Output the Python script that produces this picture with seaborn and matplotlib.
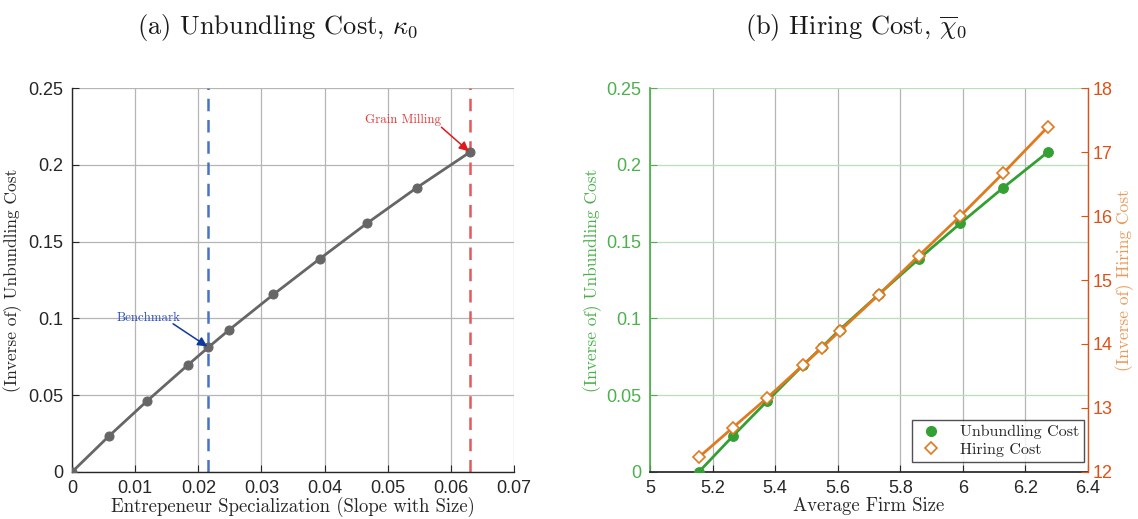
import matplotlib
matplotlib.use("Agg")
import matplotlib.pyplot as plt
from matplotlib.lines import Line2D
import seaborn as sns
import pandas as pd

# Model outcomes across the grid of unbundling costs
specialization = [0.0, 0.0058, 0.0119, 0.0183, 0.0216, 0.0249, 0.0319, 0.0392, 0.0467, 0.0546, 0.0630]
unbundling_cost = [0.0, 0.0232, 0.0463, 0.0695, 0.0812, 0.0926, 0.1156, 0.1387, 0.1619, 0.1851, 0.2082]
avg_firm_size = [5.156, 5.264, 5.375, 5.489, 5.549, 5.606, 5.731, 5.859, 5.992, 6.129, 6.271]
hiring_cost = [12.23, 12.69, 13.16, 13.67, 13.94, 14.20, 14.77, 15.38, 16.00, 16.67, 17.39]

benchmark_x = 0.0216
benchmark_y = 0.0812
grain_x = 0.0630
grain_y = 0.2082

x_ticks_a = [0, 0.01, 0.02, 0.03, 0.04, 0.05, 0.06, 0.07]
x_tick_labels_a = ["0", "0.01", "0.02", "0.03", "0.04", "0.05", "0.06", "0.07"]
y_ticks = [0, 0.05, 0.1, 0.15, 0.2, 0.25]
y_tick_labels = ["0", "0.05", "0.1", "0.15", "0.2", "0.25"]
x_ticks_b = [5, 5.2, 5.4, 5.6, 5.8, 6, 6.2, 6.4]
x_tick_labels_b = ["5", "5.2", "5.4", "5.6", "5.8", "6", "6.2", "6.4"]
y2_ticks = [12, 13, 14, 15, 16, 17, 18]
y2_tick_labels = ["12", "13", "14", "15", "16", "17", "18"]

df = pd.DataFrame({
    "spec": specialization,
    "unb": unbundling_cost,
    "size": avg_firm_size,
    "hire": hiring_cost,
})

sns.set_theme(style="white")
plt.rcParams["font.family"] = ["cmr10", "DejaVu Serif"]
plt.rcParams["mathtext.fontset"] = "cm"
plt.rcParams["axes.formatter.use_mathtext"] = True
plt.rcParams["axes.unicode_minus"] = False

SERIF = ["cmr10", "DejaVu Serif"]
TICKFONT = "Liberation Sans"

GRAY = "#666666"
GREEN = "#34a034"
GREEN_LBL = "#4cb04c"
ORANGE = "#e07a1f"
ORANGE_AX = "#d95319"
ORANGE_LBL = "#ec9a5a"

fig = plt.figure(figsize=(11.38, 5.19), dpi=100)
ax1 = fig.add_axes([0.0633, 0.0906, 0.3884, 0.7398])
ax2 = fig.add_axes([0.5712, 0.0906, 0.3849, 0.7398])


def style_ticks(ax, size=13):
    for lab in ax.get_xticklabels() + ax.get_yticklabels():
        lab.set_fontfamily(TICKFONT)
        lab.set_fontsize(size)


# ---- Panel (a) ----
ax1.set_xlim(0, 0.07)
ax1.set_ylim(0, 0.25)
ax1.set_xticks(x_ticks_a)
ax1.set_xticklabels(x_tick_labels_a)
ax1.set_yticks(y_ticks)
ax1.set_yticklabels(y_tick_labels)
ax1.grid(True, color="#b5b5b5", lw=0.9)
ax1.set_axisbelow(True)
for s in ["top", "right"]:
    ax1.spines[s].set_visible(False)
for s in ["left", "bottom"]:
    ax1.spines[s].set_color("#262626")
    ax1.spines[s].set_linewidth(1.0)
ax1.tick_params(direction="in", length=5, width=0.8, colors="#262626",
                bottom=True, left=True, pad=6)

ax1.axvline(benchmark_x, color="#4a72c4", lw=1.8, ls=(0, (5, 3.5)), zorder=2)
ax1.axvline(grain_x, color="#e35a5a", lw=1.8, ls=(0, (5, 3.5)), zorder=2)

sns.lineplot(data=df, x="spec", y="unb", ax=ax1, color=GRAY, lw=2.0,
             marker="o", markersize=6.5, markeredgecolor=GRAY, zorder=3)

ax1.annotate("Benchmark", xy=(benchmark_x, benchmark_y),
             xytext=(0.0171, 0.1005), textcoords="data",
             fontsize=9.3, color="#2a4fb8", family=SERIF, ha="right", va="center")
ax1.annotate("", xy=(benchmark_x, benchmark_y), xytext=(0.0160, 0.0965),
             arrowprops=dict(arrowstyle="-|>", color="#0e3a9c", lw=1.1,
                             mutation_scale=14, shrinkA=0, shrinkB=1))
ax1.annotate("Grain Milling", xy=(grain_x, grain_y),
             xytext=(0.0585, 0.229), textcoords="data",
             fontsize=9.3, color="#e03c3c", family=SERIF, ha="right", va="center")
ax1.annotate("", xy=(grain_x, grain_y), xytext=(0.0585, 0.2245),
             arrowprops=dict(arrowstyle="-|>", color="#e01a1a", lw=1.1,
                             mutation_scale=14, shrinkA=0, shrinkB=1))

ax1.set_xlabel("Entrepeneur Specialization (Slope with Size)", fontsize=13.5,
               family=SERIF, color="#262626", labelpad=0)
ax1.set_ylabel("(Inverse of) Unbundling Cost", fontsize=12.5, family=SERIF,
               color="#262626", labelpad=5)
ax1.set_title(r"(a) Unbundling Cost, $\kappa_0$", fontsize=19, family=SERIF,
              x=0.465, pad=39, color="#1a1a1a")
style_ticks(ax1)

# ---- Panel (b) ----
ax2.set_xlim(5, 6.4)
ax2.set_ylim(0, 0.25)
ax2.set_xticks(x_ticks_b)
ax2.set_xticklabels(x_tick_labels_b)
ax2.set_yticks(y_ticks)
ax2.set_yticklabels(y_tick_labels)
ax2.grid(True, axis="x", color="#b5b5b5", lw=0.9)
ax2.grid(True, axis="y", color="#b9dfb9", lw=0.9)
ax2.set_axisbelow(True)
ax2.spines["top"].set_visible(False)
ax2.spines["right"].set_visible(False)
ax2.spines["left"].set_color(GREEN_LBL)
ax2.spines["bottom"].set_color("#262626")
ax2.tick_params(axis="x", direction="in", length=5, width=0.8, colors="#262626",
                bottom=True, pad=6)
ax2.tick_params(axis="y", direction="in", length=5, width=0.8, colors=GREEN_LBL,
                left=True, pad=6)

sns.lineplot(data=df, x="size", y="unb", ax=ax2, color=GREEN, lw=2.0,
             marker="o", markersize=7, markeredgecolor=GREEN, zorder=3)

ax3 = ax2.twinx()
ax3.set_ylim(12, 18)
sns.lineplot(data=df, x="size", y="hire", ax=ax3, color=ORANGE, lw=2.0,
             marker="D", markersize=6.5, markerfacecolor="white",
             markeredgecolor=ORANGE, markeredgewidth=1.2, zorder=4)
ax3.set_yticks(y2_ticks)
ax3.set_yticklabels(y2_tick_labels)
for s in ["top", "left", "bottom"]:
    ax3.spines[s].set_visible(False)
ax3.spines["right"].set_color(ORANGE_AX)
ax3.spines["right"].set_linewidth(1.0)
ax3.tick_params(axis="y", direction="in", length=5, width=0.8, colors=ORANGE_AX,
                right=True, pad=3)
ax3.set_xlim(5, 6.4)

ax2.set_xlabel("Average Firm Size", fontsize=13.5, family=SERIF, color="#262626",
               labelpad=0)
ax2.set_ylabel("(Inverse of) Unbundling Cost", fontsize=12.5, family=SERIF,
               color=GREEN_LBL, labelpad=3)
ax3.set_ylabel("(Inverse of) Hiring Cost", fontsize=12.5, family=SERIF,
               color=ORANGE_LBL, labelpad=2)
ax2.set_title(r"(b) Hiring Cost, $\overline{\chi}_0$", fontsize=19, family=SERIF,
              x=0.47, pad=39, color="#1a1a1a")
style_ticks(ax2)
style_ticks(ax3)

handles = [
    Line2D([], [], ls="none", marker="o", markersize=7, color=GREEN),
    Line2D([], [], ls="none", marker="D", markersize=6, markerfacecolor="white",
           markeredgecolor=ORANGE, markeredgewidth=1.2),
]
leg = ax3.legend(handles, ["Unbundling Cost", "Hiring Cost"], loc="lower right",
                 bbox_to_anchor=(0.99, 0.027), borderaxespad=0,
                 frameon=True, fancybox=False,
                 edgecolor="#262626", prop={"family": SERIF, "size": 11.5},
                 handletextpad=0.9, borderpad=0.3, labelspacing=0.2,
                 handlelength=1.8)
leg.get_frame().set_linewidth(1.0)

fig.savefig("out.png", dpi=100, facecolor="white")
